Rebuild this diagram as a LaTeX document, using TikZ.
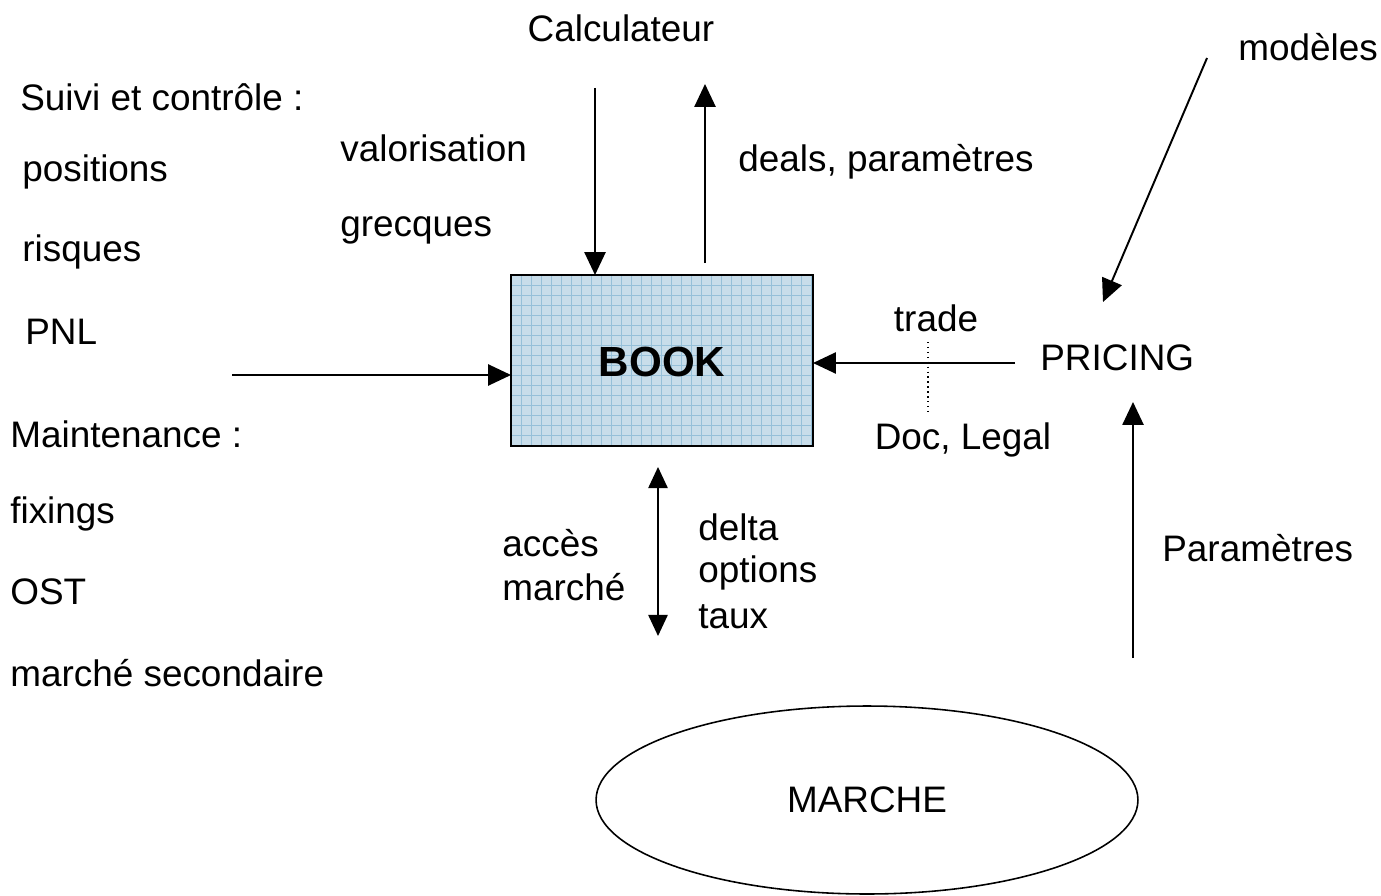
\documentclass[tikz,border=0pt]{standalone}
\usepackage{fontspec}
\setmainfont{Liberation Sans}
\usetikzlibrary{positioning}
\usetikzlibrary{arrows.meta}
\usetikzlibrary{shapes.geometric}
\definecolor{bookfond}{RGB}{200,221,234}
\definecolor{bookgrille}{RGB}{150,192,217}
\tikzset{
	every node/.style = {font=\fontsize{21}{25}\selectfont, inner sep=0pt},
	fleche/.style = {-{Triangle[length=13pt, width=12pt]}, line width=1.1pt, black},
	lbl/.style = {anchor=west}
}

\begin{document}
\begin{tikzpicture}[x=0.02cm, y=-0.02cm]
		\useasboundingbox (0,0) rectangle (1381,895);
		% book
		\fill[bookfond] (511,275) rectangle (813,446);
		\foreach \gx in {521,531,...,811}
			\draw[bookgrille, line width=0.5pt] (\gx,275) -- (\gx,446);
		\foreach \gy in {285,295,...,445}
			\draw[bookgrille, line width=0.5pt] (511,\gy) -- (813,\gy);
		\draw[line width=1.4pt] (511,275) rectangle (813,446);
		\node (book) at (662,362) {\fontsize{24}{28}\selectfont\bfseries BOOK};
		\coordinate (bookN1) at (595,275);
		\coordinate (bookN2) at (705,263);
		\coordinate (bookW) at (511,375);
		\coordinate (bookE) at (813,363);
		% calculateur
		\node (calc) at (621,28) {Calculateur};
		\coordinate (calcA) at (595,88);
		\coordinate (calcB) at (705,84);
		\draw[fleche] (calcA) -- (bookN1);
		\draw[fleche] (bookN2) -- (calcB);
		\node[lbl] (valo) at (340,148) {valorisation};
		\node[lbl] (grec) at (340,230) {grecques};
		\node[lbl] (deals) at (738,162) {deals, paramètres};
		% suivi
		\node[lbl] (suivi) at (20,97) {Suivi et contrôle :};
		\node[lbl] (pos) at (22,172) {positions};
		\node[lbl] (risk) at (22,252) {risques};
		\node[lbl] (pnl) at (25,332) {PNL};
		\node[lbl] (maint) at (10,434) {Maintenance :};
		\node[lbl] (fix) at (10,514) {fixings};
		\node[lbl] (ost) at (10,592) {OST};
		\node[lbl] (sec) at (10,673) {marché secondaire};
		\coordinate (gauche) at (232,375);
		\draw[fleche] (gauche) -- (bookW);
		% pricing
		\node[lbl] (pricing) at (1040,358) {PRICING};
		\coordinate (pricW) at (1015,363);
		\draw[fleche] (pricW) -- (bookE);
		\node (trade) at (936,318) {trade};
		\node (doc) at (963,440) {Doc, Legal};
		\coordinate (pointH) at (928,342);
		\coordinate (pointB) at (928,412);
		\draw[dotted, line width=0.8pt] (pointH) -- (pointB);
		\node (modeles) at (1308,47) {modèles};
		\coordinate (modA) at (1207,58);
		\coordinate (modB) at (1103,302);
		\draw[fleche] (modA) -- (modB);
		% marche
		\node[draw, ellipse, line width=0.9pt, minimum width=10.84cm, minimum height=3.76cm] (marche) at (867,800) {MARCHE};
		\coordinate (parA) at (1133,658);
		\coordinate (parB) at (1133,402);
		\draw[fleche] (parA) -- (parB);
		\node[lbl] (par) at (1162,548) {Paramètres};
		\coordinate (accH) at (658,467);
		\coordinate (accB) at (658,636);
		\draw[{Triangle[length=12pt, width=11pt]}-{Triangle[length=12pt, width=11pt]}, line width=0.9pt] (accH) -- (accB);
		\node[lbl] (acc1) at (502,543) {accès};
		\node[lbl] (acc2) at (502,587) {marché};
		\node[lbl] (delta) at (698,527) {delta};
		\node[lbl] (opt) at (698,573) {options};
		\node[lbl] (taux) at (698,617) {taux};
	\end{tikzpicture}
\end{document}
